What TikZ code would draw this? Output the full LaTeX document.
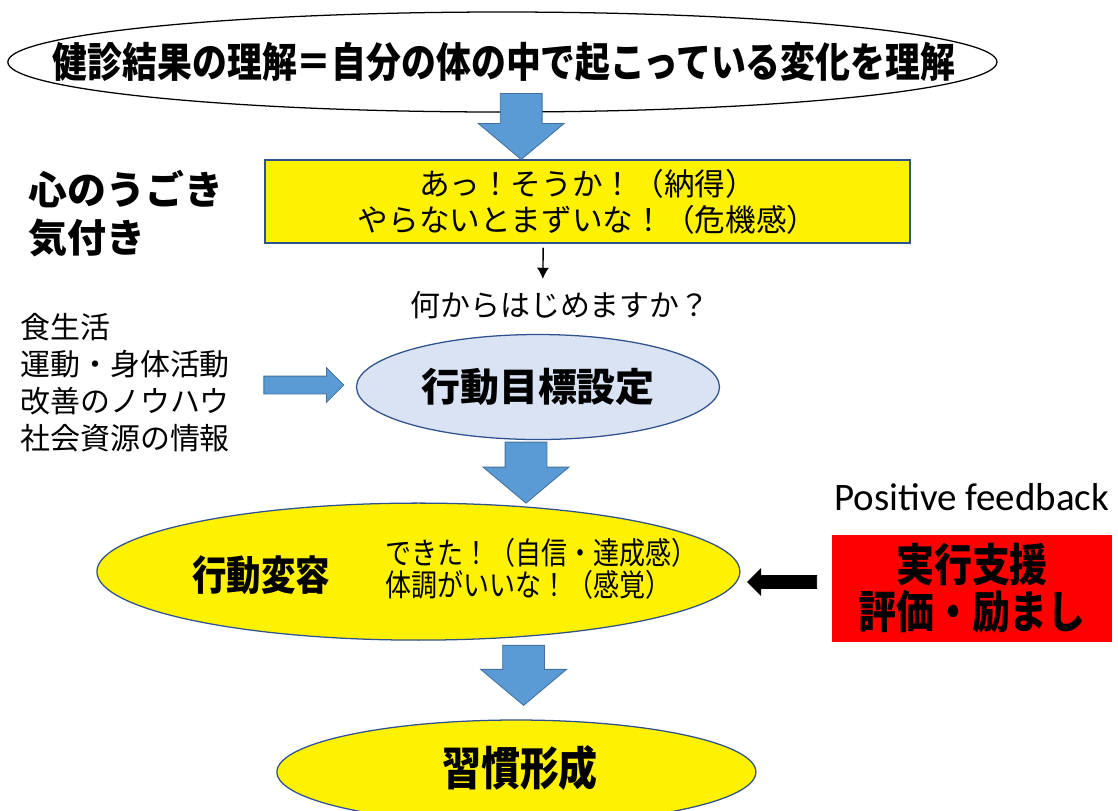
\documentclass[tikz,border=0pt]{standalone}
\usepackage{fontspec}
\setmainfont{Noto Sans CJK JP}
\newfontfamily\latinfont{Carlito}
\usepackage{tikz}
\usetikzlibrary{shapes.geometric,shapes.arrows,arrows.meta}
\definecolor{ArrowBlue}{HTML}{5B9BD5}
\definecolor{ArrowEdge}{HTML}{41719C}
\definecolor{ShapeEdge}{HTML}{2F528F}
\definecolor{PaleBlue}{HTML}{DAE3F3}
\tikzset{>={Latex[width=3mm,length=2.8mm]},
  oval/.style={shape=ellipse,inner sep=0pt,line width=0.9pt},
  plain/.style={inner sep=0pt,align=center},
  tall/.style={yscale=1.18,transform shape},
  blockarrow/.style={shape=single arrow,fill=ArrowBlue,draw=ArrowEdge,line width=0.6pt,inner xsep=0pt,outer sep=0pt},
  downarrow/.style={blockarrow,rotate=-90,inner ysep=0.5125cm,minimum width=2.125cm,single arrow head extend=0.55cm,single arrow tip angle=100}}

\begin{document}
\begin{tikzpicture}

\useasboundingbox (0,0) rectangle (27.95,-20.25);
\clip (0,0) rectangle (27.95,-20.25);

\path (12.56,-1.55) node [oval,draw=black,fill=white,minimum width=24.73cm,minimum height=2.5cm] (result) {};

\path (12.6,-1.55) node [plain,tall,font=\bfseries\fontsize{24.8}{29}\selectfont] (resulttext) {健診結果の理解＝自分の体の中で起こっている変化を理解};

\path (14.69,-5.04) node [shape=rectangle,fill=yellow,draw=ShapeEdge,line width=0.9pt,minimum width=16.125cm,minimum height=2.075cm,align=center,inner sep=0pt,font=\fontsize{21.8}{25.6}\selectfont] (aware) {あっ！そうか！（納得）\\やらないとまずいな！（危機感）};

\path ([xshift=-1.66cm]aware.north) node [downarrow,minimum height=1.65cm,anchor=tip] (step1) {};

\path (0.7,-5.35) node [plain,anchor=west,align=left,font=\bfseries\fontsize{27.7}{34}\selectfont] (heart) {心のうごき\\気付き};

\path (14.0,-7.625) node [plain,font=\fontsize{21.3}{25}\selectfont] (question) {何からはじめますか？};

\draw [->,line width=1pt] ([xshift=-1.11cm,yshift=-0.1cm]aware.south) -- ([xshift=-0.43cm,yshift=0.3cm]question.north);

\path (0.5,-9.56) node [plain,anchor=west,align=left,font=\fontsize{21.3}{26.3}\selectfont] (knowhow) {食生活\\運動・身体活動\\改善のノウハウ\\社会資源の情報};

\path (13.45,-9.675) node [oval,draw=ShapeEdge,fill=PaleBlue,minimum width=9.075cm,minimum height=2.625cm] (goal) {};

\path (goal.center) node [plain,font=\bfseries\fontsize{27.7}{34}\selectfont] (goaltext) {行動目標設定};

\path ([xshift=-0.3cm,yshift=0.05cm]goal.west) node [blockarrow,inner ysep=0.2125cm,minimum width=0.85cm,single arrow head extend=0.2125cm,single arrow tip angle=90,minimum height=2cm,anchor=tip] (feed) {};

\path (10.46,-14.29) node [oval,draw=ShapeEdge,fill=yellow,minimum width=16.075cm,minimum height=3.425cm] (change) {};

\path ([xshift=-0.3cm,yshift=-0.05cm]goal.south) node [downarrow,minimum height=1.525cm,anchor=tail] (step2) {};

\path (6.525,-14.375) node [plain,tall,font=\bfseries\fontsize{24.5}{30}\selectfont] (changetext) {行動変容};

\path (9.625,-14.225) node [plain,tall,anchor=west,align=left,font=\fontsize{18.5}{19.5}\selectfont] (felt) {できた！（自信・達成感）\\体調がいいな！（感覚）};

\path (24.29,-12.425) node [plain,font=\latinfont\fontsize{27.7}{32}\selectfont] (positive) {Positive feedback};

\path (24.3,-14.71) node [shape=rectangle,fill=red,minimum width=7.0cm,minimum height=2.675cm,inner sep=0pt] (support) {};

\path (support.center) node [plain,tall,font=\bfseries\fontsize{27}{28.5}\selectfont] (supporttext) {実行支援\\評価・励まし};

\path ([xshift=-0.375cm,yshift=0.16cm]support.west) node [blockarrow,fill=black,draw=black,rotate=180,inner ysep=0.15cm,minimum width=0.625cm,single arrow head extend=0.1625cm,single arrow tip angle=90,minimum height=1.725cm,anchor=tail] (cheer) {};

\path (12.91,-19.3) node [oval,draw=ShapeEdge,fill=yellow,minimum width=11.975cm,minimum height=2.6cm] (habit) {};

\path ([xshift=0.18cm,yshift=0.35cm]habit.north) node [downarrow,minimum height=1.5cm,anchor=tip] (step3) {};

\path (13.0,-19.2) node [plain,tall,font=\bfseries\fontsize{27.7}{34}\selectfont] (habittext) {習慣形成};

\end{tikzpicture}
\end{document}
